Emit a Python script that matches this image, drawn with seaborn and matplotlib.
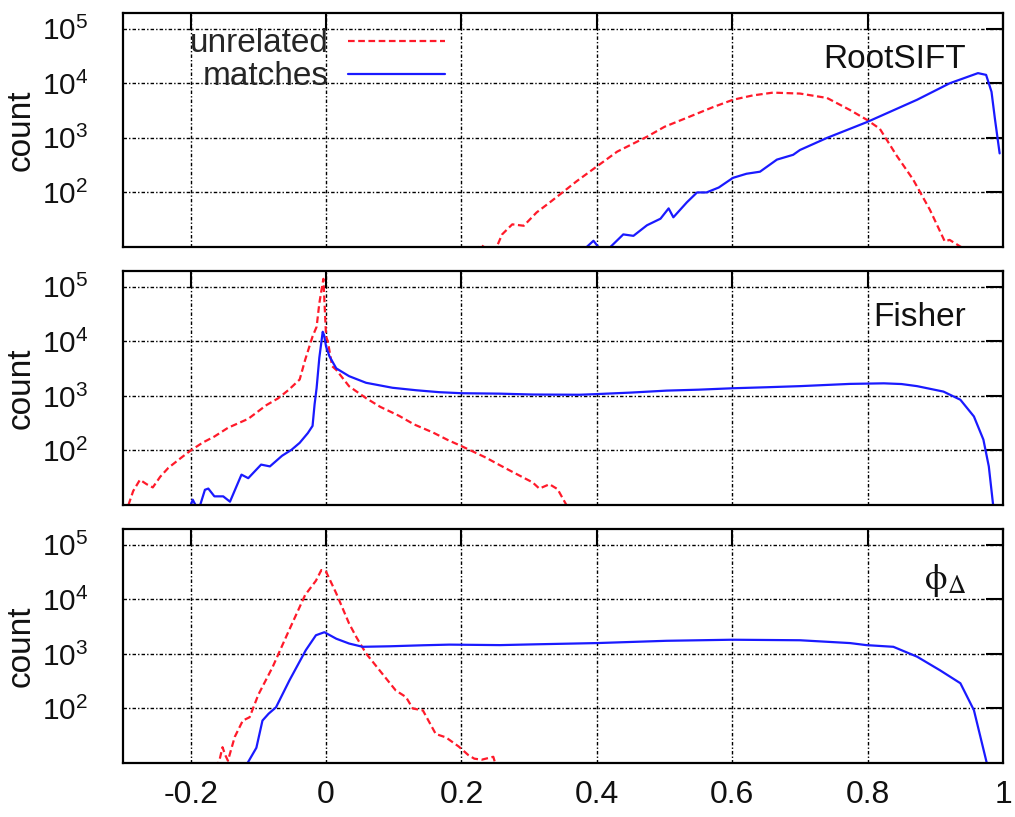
import numpy as np
import pandas as pd
import seaborn as sns
import matplotlib as mpl
from matplotlib import pyplot as plt
from matplotlib import ticker

sns.set_theme(style="white")
plt.rcParams['font.family'] = ['Liberation Sans', 'DejaVu Sans']
plt.rcParams['axes.unicode_minus'] = False
plt.rcParams['mathtext.fontset'] = 'custom'
plt.rcParams['mathtext.rm'] = 'Liberation Sans'
plt.rcParams['mathtext.it'] = 'Liberation Sans:italic'

# panel names
panel_names = ['RootSIFT', 'Fisher', r'$\mathrm{\phi}_{\Delta}$']

# RootSIFT
rs_unrel_x = [0.222, 0.228, 0.242, 0.252, 0.260, 0.275, 0.292, 0.311, 0.330, 0.346, 0.370, 0.395,
              0.430, 0.474, 0.500, 0.533, 0.570, 0.601, 0.630, 0.660, 0.700, 0.740, 0.774, 0.799,
              0.818, 0.843, 0.867, 0.892, 0.914, 0.921, 0.938, 0.950]
rs_unrel_y = [8, 11, 8.5, 10, 17, 26, 24.5, 43, 65, 93, 160, 270,
              560, 1050, 1600, 2340, 3600, 5000, 6000, 6760, 6500, 5400, 3240, 2140,
              1470, 470, 174, 48, 12.6, 13.5, 10, 8]
rs_match_x = [0.372, 0.385, 0.395, 0.405, 0.420, 0.439, 0.454, 0.474, 0.494, 0.506, 0.513, 0.533,
              0.548, 0.562, 0.580, 0.601, 0.621, 0.641, 0.666, 0.690, 0.700, 0.740, 0.799, 0.873,
              0.921, 0.963, 0.975, 0.983, 0.988, 0.995]
rs_match_y = [8, 10, 13, 9, 10, 17, 16, 25, 33, 51, 35, 66,
              100, 100, 123, 185, 220, 240, 400, 490, 600, 1000, 1950, 5000,
              10000, 15400, 14300, 7000, 2250, 520]

# Fisher
fi_unrel_x = [-0.292, -0.285, -0.275, -0.265, -0.256, -0.245, -0.233, -0.215, -0.200, -0.182,
              -0.165, -0.145, -0.115, -0.088, -0.071, -0.055, -0.039, -0.031, -0.020, -0.014,
              -0.010, -0.006, -0.004, 0.000, 0.0025, 0.009, 0.015, 0.034, 0.059, 0.080, 0.108,
              0.130, 0.158, 0.180, 0.200, 0.236, 0.255, 0.276, 0.305, 0.315, 0.330, 0.342, 0.355]
fi_unrel_y = [10, 18, 29, 24, 21, 33, 48, 72, 100, 140,
              180, 260, 380, 680, 900, 1300, 2000, 4550, 12300, 18500,
              50000, 100000, 140000, 12300, 10000, 3500, 3000, 1500, 910, 630, 430,
              300, 213, 155, 120, 74, 55, 40, 26, 20, 24, 19.5, 10]
fi_match_x = [-0.203, -0.200, -0.197, -0.192, -0.186, -0.179, -0.174, -0.165, -0.152, -0.142,
              -0.125, -0.115, -0.096, -0.083, -0.065, -0.051, -0.039, -0.027, -0.020, -0.017,
              -0.014, -0.010, -0.005, -0.003, 0.000, 0.005, 0.015, 0.034, 0.059, 0.098, 0.133,
              0.167, 0.200, 0.256, 0.305, 0.374, 0.400, 0.450, 0.503, 0.550, 0.600, 0.650,
              0.700, 0.774, 0.824, 0.850, 0.873, 0.912, 0.937, 0.957, 0.971, 0.979, 0.985, 0.988]
fi_match_y = [8, 10, 12.5, 9.5, 10, 19, 20, 14.4, 14.4, 11.5,
              36, 31, 55, 51, 80, 103, 138, 208, 282, 700,
              1400, 5000, 15000, 13000, 8000, 5300, 3200, 2300, 1740, 1410, 1270,
              1170, 1120, 1100, 1060, 1050, 1080, 1150, 1250, 1300, 1380, 1440,
              1510, 1660, 1700, 1650, 1510, 1200, 850, 420, 158, 51, 11, 6]

# phi_Delta
ph_unrel_x = [-0.162, -0.157, -0.153, -0.149, -0.145, -0.135, -0.123, -0.113, -0.100, -0.079,
              -0.057, -0.031, -0.015, -0.007, 0.000, 0.015, 0.034, 0.045, 0.059, 0.079, 0.103,
              0.118, 0.128, 0.143, 0.162, 0.177, 0.196, 0.210, 0.219, 0.230, 0.247, 0.252]
ph_unrel_y = [8, 12, 19.5, 14, 11, 30, 60, 69, 180, 575,
              2350, 12000, 22000, 34500, 32000, 12900, 3600, 2000, 1020, 500, 213,
              162, 100, 92, 34, 29.5, 20, 14, 12, 11.5, 13, 8]
ph_match_x = [-0.125, -0.116, -0.103, -0.094, -0.085, -0.074, -0.054, -0.030, -0.015, -0.0025,
              0.015, 0.034, 0.054, 0.094, 0.143, 0.182, 0.257, 0.310, 0.400, 0.503, 0.600,
              0.700, 0.774, 0.798, 0.838, 0.873, 0.907, 0.937, 0.957, 0.976, 0.980]
ph_match_y = [8, 10, 19, 60, 80, 105, 330, 1170, 2200, 2500,
              1900, 1550, 1350, 1380, 1440, 1480, 1450, 1500, 1580, 1740, 1820,
              1780, 1580, 1450, 1350, 890, 500, 290, 93, 10, 7]

xtick_vals = [-0.2, 0, 0.2, 0.4, 0.6, 0.8, 1]
xtick_labels = ['-0.2', '0', '0.2', '0.4', '0.6', '0.8', '1']
ytick_vals = [1e2, 1e3, 1e4, 1e5]
ytick_labels = [r'$10^2$', r'$10^3$', r'$10^4$', r'$10^5$']

series = [
    (rs_unrel_x, rs_unrel_y, rs_match_x, rs_match_y),
    (fi_unrel_x, fi_unrel_y, fi_match_x, fi_match_y),
    (ph_unrel_x, ph_unrel_y, ph_match_x, ph_match_y),
]

fig = plt.figure(figsize=(10.15, 8.17), dpi=100)
rects = [(0.1212, 0.6977, 0.867, 0.2864),
         (0.1212, 0.3819, 0.867, 0.2864),
         (0.1212, 0.0661, 0.867, 0.2864)]

grid_ls = (0, (2.5, 1.5, 1, 1.5))

for i, (rect, name, (ux, uy, mx, my)) in enumerate(zip(rects, panel_names, series)):
    ax = fig.add_axes(rect)
    sns.lineplot(x=ux, y=uy, ax=ax, color='#ff1a2a', lw=1.6, linestyle=(0, (3, 1.6)),
                 estimator=None, sort=False, label='unrelated' if i == 0 else None)
    sns.lineplot(x=mx, y=my, ax=ax, color='#1a1aff', lw=1.6,
                 estimator=None, sort=False, label='matches' if i == 0 else None)

    ax.set_yscale('log')
    ax.set_xlim(-0.3, 1.0)
    ax.set_ylim(10, 1.95e5)
    ax.set_yticks(ytick_vals, labels=ytick_labels)
    ax.yaxis.set_minor_locator(ticker.NullLocator())
    if i == 2:
        ax.set_xticks(xtick_vals, labels=xtick_labels)
    else:
        ax.set_xticks(xtick_vals, labels=[''] * len(xtick_vals))

    ax.grid(True, color='black', linestyle=grid_ls, linewidth=1.0)
    for s in ax.spines.values():
        s.set_color('black')
        s.set_linewidth(1.6)
    ax.tick_params(axis='both', which='major', direction='in', length=12, width=1.5,
                   color='black', top=True, right=True, labelcolor='#111111')
    ax.tick_params(axis='y', pad=25, labelsize=21.5)
    ax.tick_params(axis='x', pad=12, labelsize=23)
    ax.set_xlabel('')
    ax.set_ylabel('count', fontsize=24, labelpad=4, color='#111111')

    if i == 2:
        ax.text(0.958, 0.78, name, transform=ax.transAxes, ha='right', va='center',
                fontsize=26, math_fontfamily='stix', color='#111111')
    else:
        ax.text(0.958, 0.80, name, transform=ax.transAxes, ha='right', va='center',
                fontsize=24, color='#111111')

    if i == 0:
        ax.legend(loc='upper right', bbox_to_anchor=(0.366, 0.935), frameon=False,
                  markerfirst=False, fontsize=24, handlelength=2.9, handletextpad=0.6,
                  labelspacing=0.06, borderpad=0, borderaxespad=0)
    else:
        leg = ax.get_legend()
        if leg is not None:
            leg.remove()

fig.savefig('out.png', dpi=100)
